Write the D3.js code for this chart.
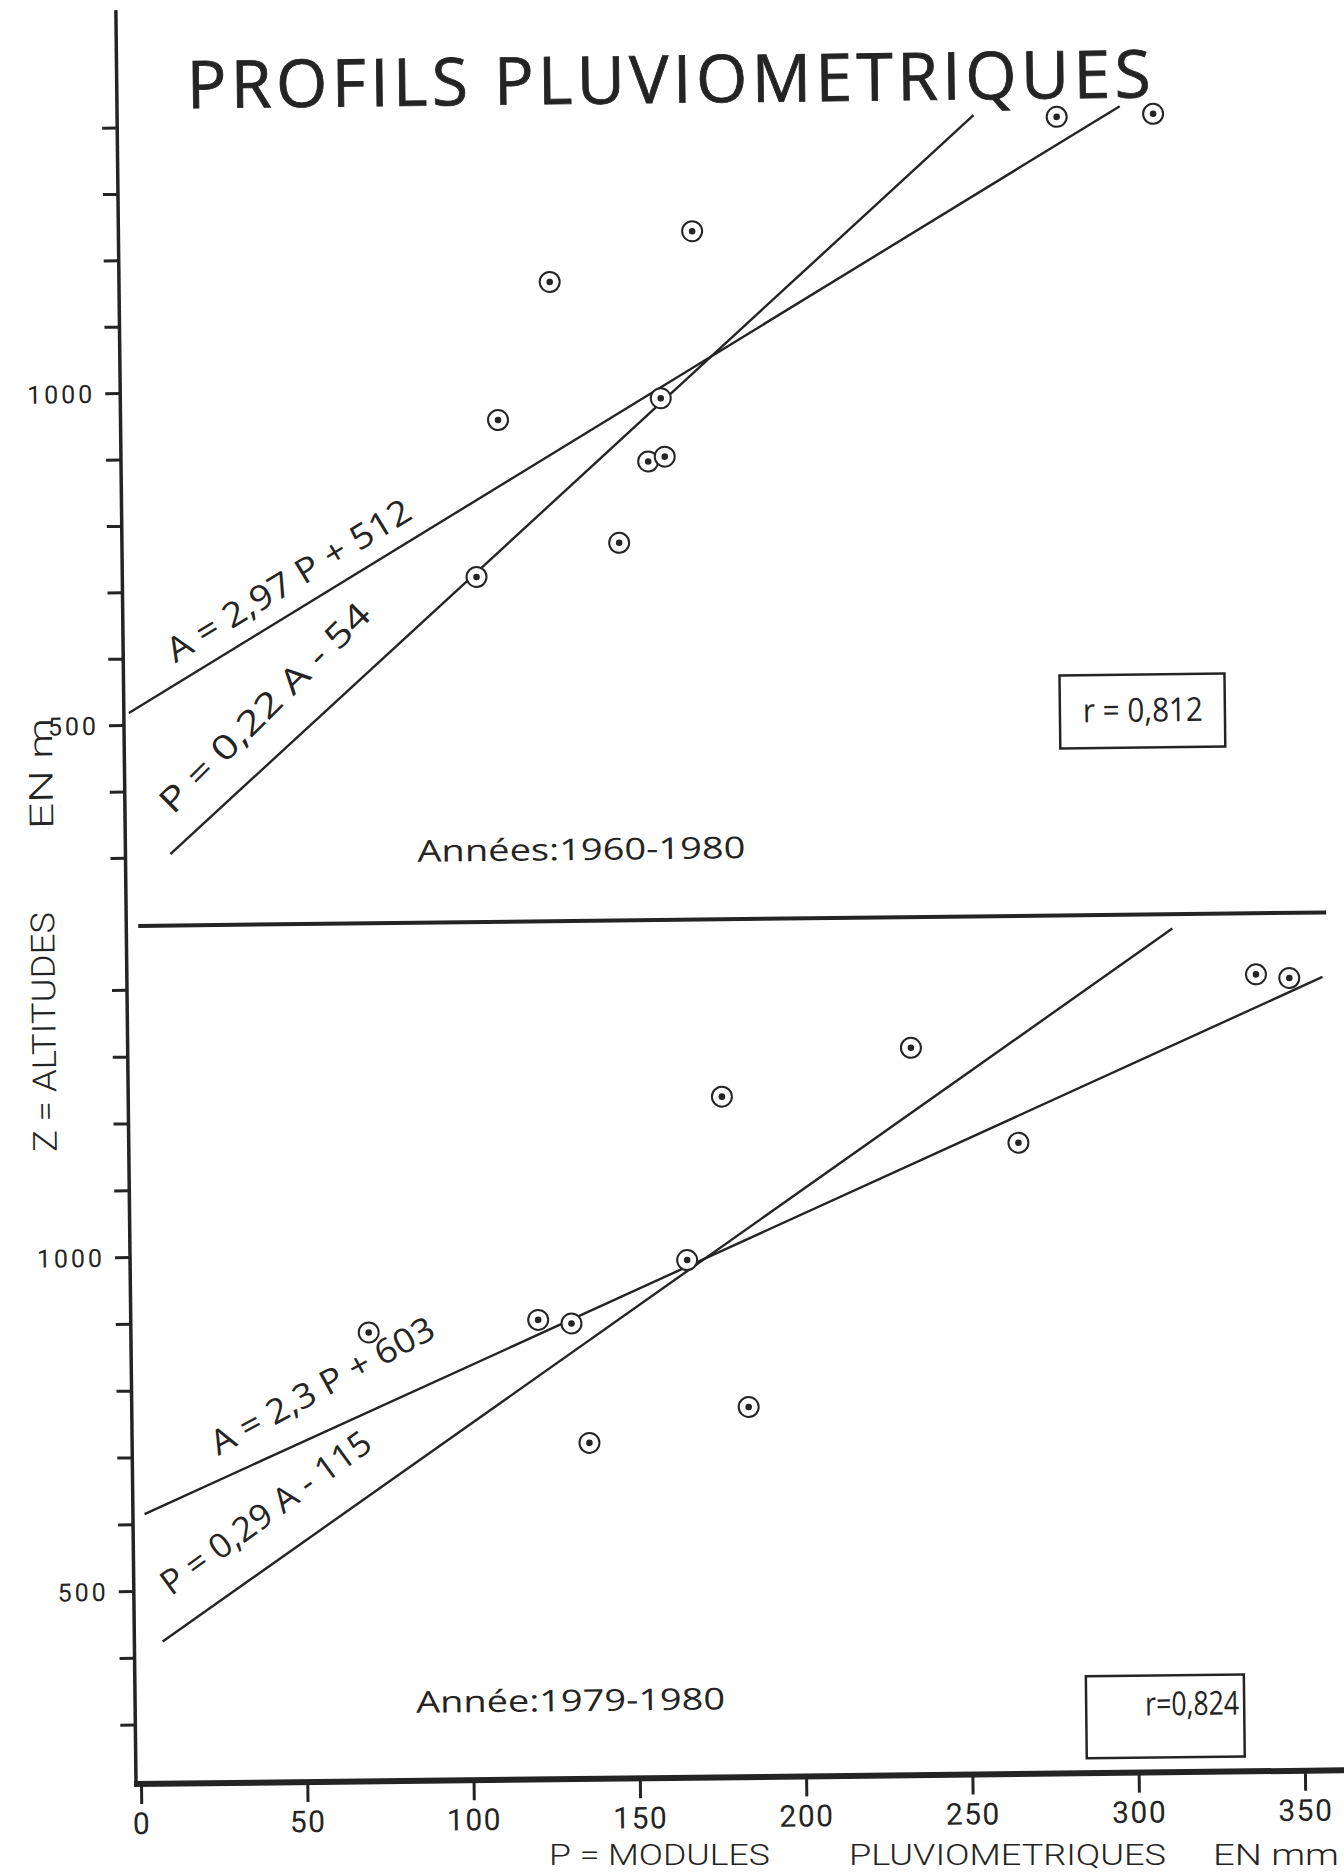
<!DOCTYPE html>
<html>
<head>
<meta charset="utf-8">
<script src="https://cdn.jsdelivr.net/npm/d3@7"></script>
<style>
  body { margin: 0; background: #fff; }
  svg { display: block; }
</style>
</head>
<body>
<svg id="chart" width="1344" height="1875"></svg>
<script>
// ---------------- DATA ----------------
const xTicks = [0, 50, 100, 150, 200, 250, 300, 350];
const yTicks = [300, 400, 500, 600, 700, 800, 900, 1000, 1100, 1200, 1300, 1400];
const yLabelled = [500, 1000];

// Panel 1 : Années 1960-1980  (P = module pluviométrique mm, A = altitude m)
const topP = [281, 310, 171, 128, 161, 112, 157, 162, 148, 105];
const topA = [1400, 1403, 1234, 1160, 983, 953, 888, 895, 766, 717];
// Panel 2 : Année 1979-1980
const botP = [70, 121, 131, 166, 136, 184, 177, 234, 266, 338, 348];
const botA = [883, 899, 893, 986, 714, 765, 1230, 1300, 1156, 1404, 1398];

// regression lines as drawn (end points, [P, A])
const topLineA = [[0, 518], [300, 1415]];   // A = 2,97 P + 512
const topLineP = [[12, 305], [256, 1404]];  // P = 0,22 A - 54
const botLineA = [[2, 615], [358, 1399]];   // A = 2,3 P + 603
const botLineP = [[7, 424], [313, 1474]];   // P = 0,29 A - 115

const topEquations = ["A = 2,97 P + 512", "P = 0,22 A - 54"];
const botEquations = ["A = 2,3 P + 603", "P = 0,29 A - 115"];
const periods = ["Années:1960-1980", "Année:1979-1980"];
const correlations = ["r = 0,812", "r=0,824"];

// ---------------- DRAWING ----------------
const ink = "#242424";
const svg = d3.select("#chart");
svg.append("rect").attr("width", 1344).attr("height", 1875).attr("fill", "#fff");
const g = svg.append("g").attr("transform", "rotate(-0.65,136,1784)");

const x = d3.scaleLinear().domain([0, 350]).range([141, 1305]);
const yTop = d3.scaleLinear().domain([500, 1000]).range([725, 393]);
const yBot = d3.scaleLinear().domain([500, 1000]).range([1591, 1257]);
const axisX = 136, axisBottomY = 1784;

// title
g.append("text").attr("x", 206).attr("y", 109)
  .attr("textLength", 964).attr("lengthAdjust", "spacing")
  .attr("font-family", "'Open Sans', sans-serif").attr("font-size", 66)
  .attr("fill", ink).attr("stroke", ink).attr("stroke-width", 0.8)
  .text("PROFILS PLUVIOMETRIQUES");

// vertical axis line
g.append("line").attr("x1", axisX).attr("x2", axisX).attr("y1", 10).attr("y2", axisBottomY)
  .attr("stroke", ink).attr("stroke-width", 3.5);
// horizontal x axis line
g.append("line").attr("x1", axisX - 2).attr("x2", 1352).attr("y1", axisBottomY).attr("y2", axisBottomY)
  .attr("stroke", ink).attr("stroke-width", 6);
// divider between panels
g.append("line").attr("x1", 148).attr("x2", 1336).attr("y1", 926).attr("y2", 926)
  .attr("stroke", ink).attr("stroke-width", 4);

function yAxis(scale) {
  const ax = g.append("g").attr("transform", `translate(${axisX},0)`)
    .call(d3.axisLeft(scale).tickValues(yTicks).tickSize(15).tickPadding(10)
      .tickFormat(d => yLabelled.includes(d) ? d : ""));
  ax.select(".domain").remove();
  ax.selectAll(".tick line").attr("stroke", ink).attr("stroke-width", 3);
  ax.selectAll(".tick text").attr("fill", ink)
    .attr("font-family", "Roboto, sans-serif").attr("font-size", 25)
    .attr("letter-spacing", 3).attr("dy", "0.36em");
}
yAxis(yTop);
yAxis(yBot);

const xa = g.append("g").attr("transform", `translate(0,${axisBottomY})`)
  .call(d3.axisBottom(x).tickValues(xTicks).tickSize(20));
xa.select(".domain").remove();
xa.selectAll(".tick line").attr("stroke", ink).attr("stroke-width", 3);
xa.selectAll(".tick text").attr("fill", ink).attr("y", 50).attr("dy", 0)
  .attr("font-family", "Roboto, sans-serif").attr("font-size", 30).attr("letter-spacing", 1.5);

// axis titles
const xTitle = [["P = MODULES", 549, 221], ["PLUVIOMETRIQUES", 849, 317], ["EN mm", 1213, 126]];
svg.selectAll(".xt").data(xTitle).join("text").attr("class", "xt")
  .attr("x", d => d[1]).attr("y", 1865).attr("textLength", d => d[2]).attr("lengthAdjust", "spacingAndGlyphs")
  .attr("font-family", "Roboto, sans-serif").attr("font-weight", 300).attr("font-size", 30)
  .attr("fill", ink).text(d => d[0]);

const yTitle = [["Z = ALTITUDES", 1151, 240], ["EN m", 828, 111]];
g.selectAll(".yt").data(yTitle).join("text").attr("class", "yt")
  .attr("transform", d => `translate(64,${d[1]}) rotate(-90)`)
  .attr("textLength", d => d[2]).attr("lengthAdjust", "spacingAndGlyphs")
  .attr("font-family", "Roboto, sans-serif").attr("font-weight", 300).attr("font-size", 33)
  .attr("fill", ink).text(d => d[0]);

// regression lines
const lineTop = d3.line().x(d => x(d[0])).y(d => yTop(d[1]));
const lineBot = d3.line().x(d => x(d[0])).y(d => yBot(d[1]));
[topLineA, topLineP].forEach(l => g.append("path").attr("d", lineTop(l))
  .attr("stroke", ink).attr("stroke-width", 2.4).attr("fill", "none"));
[botLineA, botLineP].forEach(l => g.append("path").attr("d", lineBot(l))
  .attr("stroke", ink).attr("stroke-width", 2.4).attr("fill", "none"));

// points
function points(P, A, scale) {
  const pts = P.map((p, i) => [p, A[i]]);
  const pg = g.append("g");
  pg.selectAll("circle.o").data(pts).join("circle").attr("class", "o")
    .attr("cx", d => x(d[0])).attr("cy", d => scale(d[1])).attr("r", 10)
    .attr("fill", "#fff").attr("stroke", ink).attr("stroke-width", 2);
  pg.selectAll("circle.i").data(pts).join("circle").attr("class", "i")
    .attr("cx", d => x(d[0])).attr("cy", d => scale(d[1])).attr("r", 3.3)
    .attr("fill", ink);
}
points(topP, topA, yTop);
points(botP, botA, yBot);

// equation labels
const eqPos = [
  [topEquations[0], 188, 664, -30.7, 280],
  [topEquations[1], 184, 816, -44.1, 282],
  [botEquations[0], 222, 1457, -28, 250],
  [botEquations[1], 173, 1597, -35.5, 252]
];
g.selectAll(".eq").data(eqPos).join("text").attr("class", "eq")
  .attr("transform", d => `translate(${d[1]},${d[2]}) rotate(${d[3]})`)
  .attr("textLength", d => d[4]).attr("lengthAdjust", "spacingAndGlyphs")
  .attr("font-family", "'Open Sans', sans-serif").attr("font-size", 34).attr("fill", ink)
  .text(d => d[0]);

// period labels
g.append("text").attr("x", 428).attr("y", 865).attr("textLength", 328).attr("lengthAdjust", "spacingAndGlyphs")
  .attr("font-family", "'Open Sans', sans-serif").attr("font-size", 30).attr("fill", ink).text(periods[0]);
g.append("text").attr("x", 417).attr("y", 1716).attr("textLength", 309).attr("lengthAdjust", "spacingAndGlyphs")
  .attr("font-family", "'Open Sans', sans-serif").attr("font-size", 30).attr("fill", ink).text(periods[1]);

// correlation boxes
g.append("rect").attr("x", 1072).attr("y", 686).attr("width", 165).attr("height", 73)
  .attr("fill", "none").attr("stroke", ink).attr("stroke-width", 2.5);
g.append("text").attr("x", 1095).attr("y", 733).attr("textLength", 120).attr("lengthAdjust", "spacingAndGlyphs")
  .attr("font-family", "'Open Sans', sans-serif").attr("font-size", 33).attr("fill", ink).text(correlations[0]);
g.append("rect").attr("x", 1087).attr("y", 1687).attr("width", 158).attr("height", 82)
  .attr("fill", "none").attr("stroke", ink).attr("stroke-width", 2.5);
g.append("text").attr("x", 1146).attr("y", 1727).attr("textLength", 94).attr("lengthAdjust", "spacingAndGlyphs")
  .attr("font-family", "'Open Sans', sans-serif").attr("font-size", 33).attr("fill", ink).text(correlations[1]);
</script>
</body>
</html>
